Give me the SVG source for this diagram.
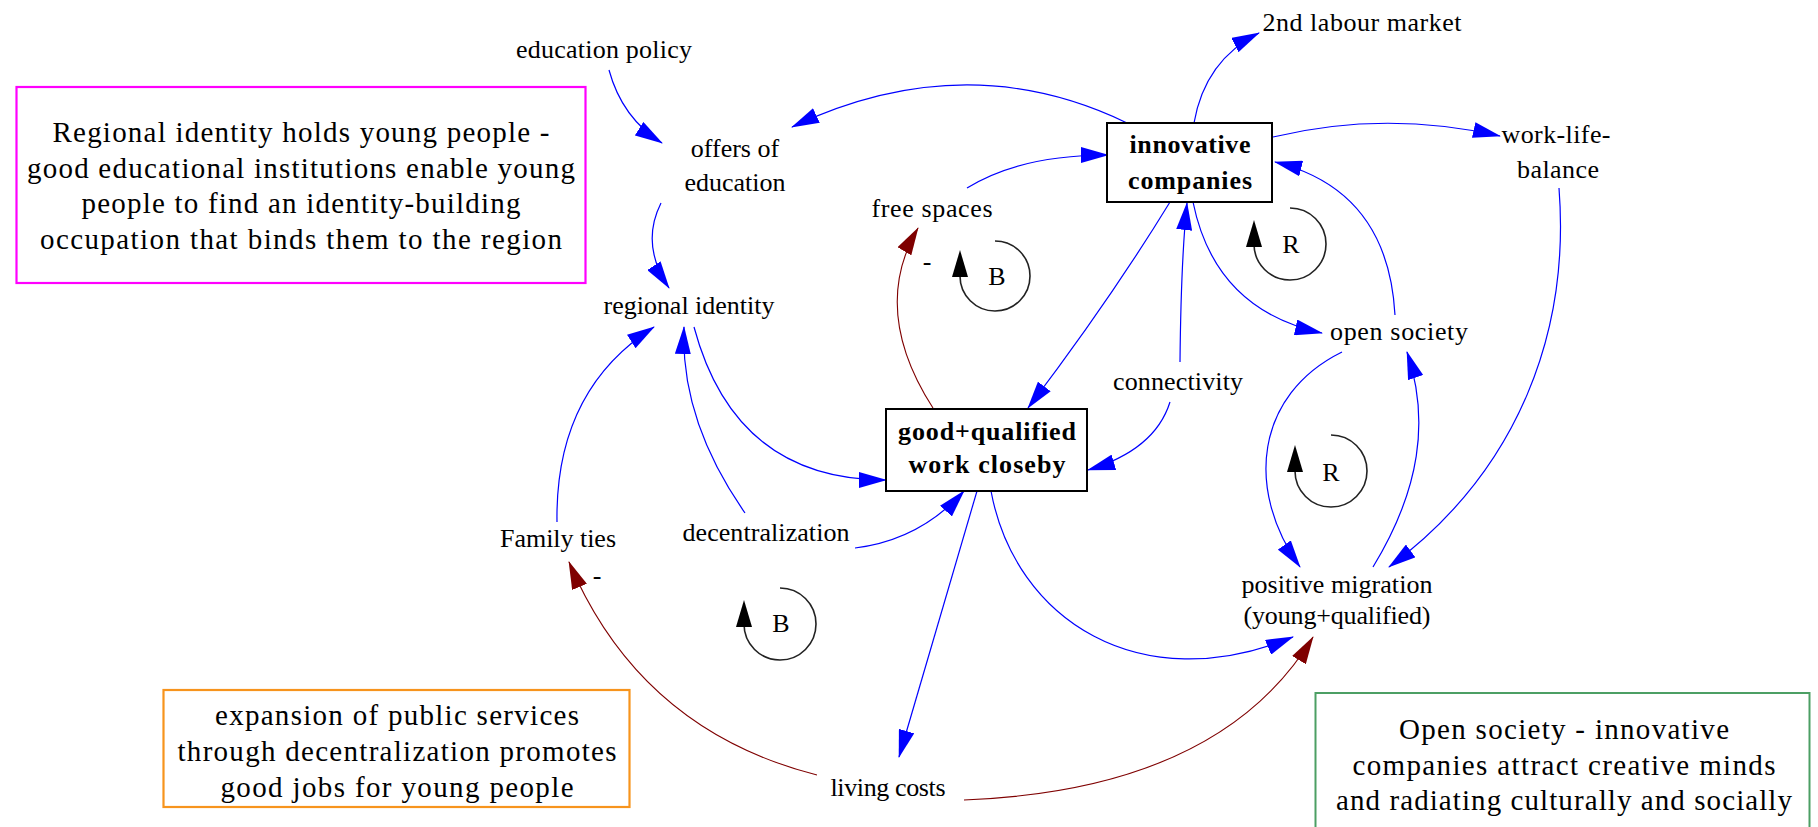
<svg xmlns="http://www.w3.org/2000/svg" width="1818" height="827" viewBox="0 0 1818 827">
<style>
text{font-family:"Liberation Serif","Times New Roman",serif;fill:#000;text-anchor:middle}
.n{font-size:26px}
.b{font-size:26px;font-weight:bold}
.a{font-size:29px}
.box{fill:#fff;stroke:#000;stroke-width:2}
.pos{fill:none;stroke:#0000ff;stroke-width:1.2;marker-end:url(#ab)}
.neg{fill:none;stroke:#7f0000;stroke-width:1.1;marker-end:url(#ar)}
.loop{fill:none;stroke:#222;stroke-width:1.6}
.sign{font-size:26px}
</style>
<defs>
<marker id="ab" markerUnits="userSpaceOnUse" markerWidth="28" markerHeight="16" viewBox="0 0 28 16" refX="27" refY="8" orient="auto"><path d="M0,0 L28,8 L0,16 z" fill="#0000ff"/></marker>
<marker id="ar" markerUnits="userSpaceOnUse" markerWidth="28" markerHeight="16" viewBox="0 0 28 16" refX="27" refY="8" orient="auto"><path d="M0,0 L28,8 L0,16 z" fill="#7f0000"/></marker>
<path id="loopArrow" d="M0,0 L-8,27 L8,27 z" fill="#000"/>
</defs>
<rect width="1818" height="827" fill="#fff"/>

<g id="connectors">
<path class="pos" d="M609,70 Q622,118 662,143"/>
<path class="pos" d="M661,203 Q640,245 669,288"/>
<path class="pos" d="M1127,123 Q966,45 792,127"/>
<path class="pos" d="M967,188 Q1020,155 1108,155"/>
<path class="pos" d="M1194,123 Q1205,60 1259,33"/>
<path class="pos" d="M1273,137 Q1385,110 1500,136"/>
<path class="pos" d="M1395,315 Q1388,190 1275,162"/>
<path class="pos" d="M1193,202 Q1215,310 1322,333"/>
<path class="pos" d="M1170,202 Q1110,300 1028,408"/>
<path class="pos" d="M1180,362 Q1181,260 1187,203"/>
<path class="pos" d="M1170,402 Q1155,450 1088,470"/>
<path class="neg" d="M933,408 Q870,310 918,228"/>
<path class="pos" d="M694,327 Q735,480 886,480"/>
<path class="pos" d="M745,513 Q680,420 684,327"/>
<path class="pos" d="M855,548 Q920,540 964,491"/>
<path class="pos" d="M557,522 Q555,390 654,327"/>
<path class="pos" d="M977,491 L899,757"/>
<path class="pos" d="M991,491 C1015,620 1140,700 1293,637"/>
<path class="neg" d="M817,775 Q640,730 569,562"/>
<path class="neg" d="M964,800 Q1220,790 1313,637"/>
<path class="pos" d="M1342,352 C1255,395 1245,490 1300,567"/>
<path class="pos" d="M1373,567 C1420,490 1430,420 1407,352"/>
<path class="pos" d="M1559,188 C1570,330 1520,470 1389,567"/>
<text class="sign" x="927" y="270">-</text>
<text class="sign" x="597" y="584">-</text>
</g>

<g id="education-policy"><text class="n" x="604" y="58" textLength="176">education policy</text></g>
<g id="offers-of-education"><text class="n" x="735" y="157">offers of</text><text class="n" x="735" y="191">education</text></g>
<g id="regional-identity"><text class="n" x="689" y="314" textLength="171">regional identity</text></g>
<g id="free-spaces"><text class="n" x="932" y="217" textLength="121">free spaces</text></g>
<g id="innovative-companies"><rect class="box" x="1107" y="123" width="165" height="79"/><text class="b" x="1190" y="153" textLength="121">innovative</text><text class="b" x="1190" y="189" textLength="124">companies</text></g>
<g id="second-labour-market"><text class="n" x="1362" y="31" textLength="199">2nd labour market</text></g>
<g id="work-life-balance"><text class="n" x="1556" y="143" textLength="109">work-life-</text><text class="n" x="1558" y="178" textLength="82">balance</text></g>
<g id="open-society"><text class="n" x="1399" y="340" textLength="138">open society</text></g>
<g id="connectivity"><text class="n" x="1178" y="390" textLength="130">connectivity</text></g>
<g id="good-qualified-work"><rect class="box" x="886" y="409" width="201" height="82"/><text class="b" x="987" y="440" textLength="178">good+qualified</text><text class="b" x="987" y="473" textLength="157">work closeby</text></g>
<g id="decentralization"><text class="n" x="766" y="541" textLength="167">decentralization</text></g>
<g id="family-ties"><text class="n" x="558" y="547" textLength="116">Family ties</text></g>
<g id="living-costs"><text class="n" x="888" y="796" textLength="115">living costs</text></g>
<g id="positive-migration"><text class="n" x="1337" y="593" textLength="191">positive migration</text><text class="n" x="1337" y="624" textLength="187">(young+qualified)</text></g>

<g id="loop-B1"><path class="loop" d="M995,241 A35,35 0 1 1 960,276"/><use href="#loopArrow" x="960" y="250"/><text class="n" x="997" y="285">B</text></g>
<g id="loop-R1"><path class="loop" d="M1290,208 A36,36 0 1 1 1254,244"/><use href="#loopArrow" x="1254" y="220"/><text class="n" x="1291" y="253">R</text></g>
<g id="loop-R2"><path class="loop" d="M1331,435 A36,36 0 1 1 1295,471"/><use href="#loopArrow" x="1295" y="445"/><text class="n" x="1331" y="481">R</text></g>
<g id="loop-B2"><path class="loop" d="M780,588 A36,36 0 1 1 744,624"/><use href="#loopArrow" x="744" y="600"/><text class="n" x="781" y="632">B</text></g>

<g id="note-regional-identity"><rect x="16.5" y="87" width="569" height="196" fill="none" stroke="#ff00ff" stroke-width="2.2"/>
<text class="a" x="301" y="142" textLength="497">Regional identity holds young people -</text>
<text class="a" x="301" y="178" textLength="548">good educational institutions enable young</text>
<text class="a" x="301" y="213" textLength="439">people to find an identity-building</text>
<text class="a" x="301" y="249" textLength="522">occupation that binds them to the region</text></g>
<g id="note-decentralization"><rect x="163.5" y="690" width="466" height="117" fill="none" stroke="#f7941d" stroke-width="2.2"/>
<text class="a" x="397" y="725" textLength="364">expansion of public services</text>
<text class="a" x="397" y="761" textLength="439">through decentralization promotes</text>
<text class="a" x="397" y="797" textLength="353">good jobs for young people</text></g>
<g id="note-open-society"><rect x="1315.5" y="693" width="494" height="150" fill="none" stroke="#4c9f64" stroke-width="2"/>
<text class="a" x="1564" y="739" textLength="330">Open society - innovative</text>
<text class="a" x="1564" y="775" textLength="423">companies attract creative minds</text>
<text class="a" x="1564" y="810" textLength="456">and radiating culturally and socially</text></g>
</svg>
